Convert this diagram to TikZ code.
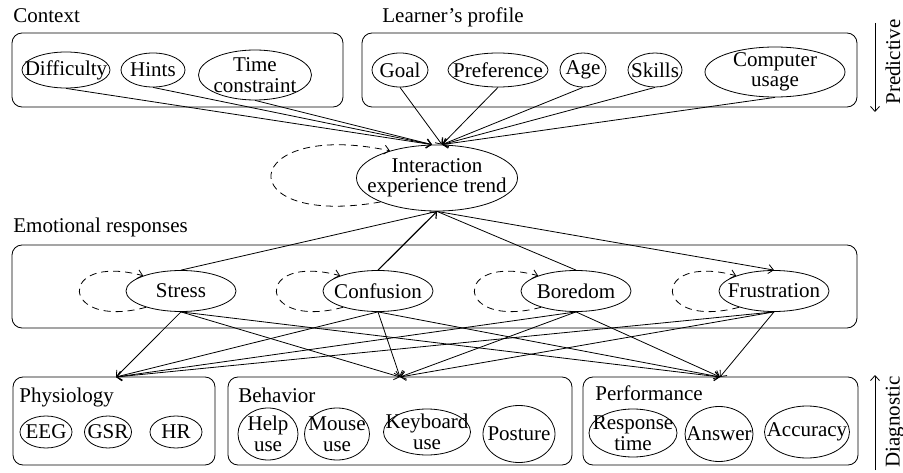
\documentclass[tikz,border=0pt]{standalone}
\usepackage{fontspec}
\setmainfont{Liberation Serif}
\usetikzlibrary{shapes.geometric,arrows.meta}
\begin{document}
\begin{tikzpicture}[x=1pt,y=1pt,line width=0.8pt,
    every node/.append style={font=\fontsize{21}{20.5}\selectfont},
    var/.style={ellipse,draw,inner xsep=-30pt,inner ysep=-30pt,align=center},
    group/.style={draw,rounded corners=10pt,inner sep=0pt},
    grouplabel/.style={anchor=base west,inner sep=0pt},
    loopline/.style={dash pattern=on 7pt off 5pt},
    >={Straight Barb[length=5pt,width=9pt]}]
                \useasboundingbox (0,0) rectangle (903,472);

                \path (177.5,402) node[group,minimum width=331,minimum height=74] (ctxbox) {};
                \path (609.5,402) node[group,minimum width=495,minimum height=74] (lpbox) {};
                \path (434.5,185.5) node[group,minimum width=845,minimum height=83] (emobox) {};
                \path (114,51) node[group,minimum width=202,minimum height=88] (physbox) {};
                \path (400,51) node[group,minimum width=344,minimum height=88] (behbox) {};
                \path (720.5,51) node[group,minimum width=275,minimum height=88] (perfbox) {};

                \path (13,449) node[grouplabel] (ctxlabel) {Context};
                \path (382,449) node[grouplabel] (lplabel) {Learner's profile};
                \path (13,239) node[grouplabel] (emolabel) {Emotional responses};
                \path (19,70) node[grouplabel] (physlabel) {Physiology};
                \path (238,70) node[grouplabel] (behlabel) {Behavior};
                \path (595,72) node[grouplabel] (perflabel) {Performance};

                \path (66,402) node[var,minimum width=88,minimum height=36] (difficulty) {Difficulty};
                \path (153,402) node[var,minimum width=64,minimum height=34] (hints) {Hints};
                \path (255,397) node[var,minimum width=113,minimum height=50] (timec) {Time\\constraint};
                \path (400,402) node[var,minimum width=56,minimum height=34] (goal) {Goal};
                \path (498,402) node[var,minimum width=100,minimum height=34] (pref) {Preference};
                \path (583,402) node[var,minimum width=46,minimum height=34] (age) {Age};
                \path (655,402) node[var,minimum width=54,minimum height=34] (skills) {Skills};
                \path (775,400) node[var,minimum width=140,minimum height=50] (compu) {Computer\\usage};

                \path (437,294) node[var,minimum width=161,minimum height=66] (trend) {Interaction\\experience trend};

                \path (181,181) node[var,minimum width=110,minimum height=41] (stress) {Stress};
                \path (378,181) node[var,minimum width=110,minimum height=41] (confusion) {Confusion};
                \path (576,181) node[var,minimum width=110,minimum height=41] (boredom) {Boredom};
                \path (774,181) node[var,minimum width=110,minimum height=41] (frustration) {Frustration};

                \path (46,40) node[var,minimum width=52,minimum height=32] (eeg) {EEG};
                \path (108,40) node[var,minimum width=47,minimum height=32] (gsr) {GSR};
                \path (176,40) node[var,minimum width=52,minimum height=32] (hr) {HR};
                \path (268,38) node[var,minimum width=60,minimum height=52] (helpuse) {Help\\use};
                \path (337,38) node[var,minimum width=65,minimum height=52] (mouseuse) {Mouse\\use};
                \path (427,40) node[var,minimum width=87,minimum height=46] (keyuse) {Keyboard\\use};
                \path (519,38) node[var,minimum width=72,minimum height=57] (posture) {Posture};
                \path (633,39) node[var,minimum width=88,minimum height=48] (resptime) {Response\\time};
                \path (719,38) node[var,minimum width=68,minimum height=55] (answer) {Answer};
                \path (807,40) node[var,minimum width=85,minimum height=52] (accuracy) {Accuracy};

                \path (893,410) node[rotate=90] (predlabel) {Predictive};
                \path (895,50) node[rotate=90] (diaglabel) {Diagnostic};
                \coordinate (predtop) at (875,449);
                \coordinate (predbot) at (875,360);
                \coordinate (diagbot) at (875,2);
                \coordinate (diagtop) at (875,97);
                \draw[->] (predtop) -- (predbot);
                \draw[->] (diagbot) -- (diagtop);

                \foreach \n in {difficulty,hints,timec}
                  \draw[->] (\n.south) -- ([xshift=-5]trend.north);
                \foreach \n in {goal,pref,age,skills,compu}
                  \draw[->] (\n.south) -- ([xshift=5]trend.north);

                \draw (trend.south) -- (stress.north);
                \draw[->,line width=1.2pt] (confusion.north) -- (trend.south);
                \draw (trend.south) -- (boredom.north);
                \draw[->] (trend.south) -- (frustration.north);

                \draw[loopline,->] (trend.203) to[out=190,in=168,distance=155] (trend.150);
                \foreach \n in {stress,confusion,boredom,frustration}
                  \draw[loopline,->] (\n.205) to[out=195,in=165,distance=90] (\n.158);

                \coordinate (physin) at (116,95);
                \coordinate (behin) at (400,95);
                \coordinate (perfin) at (720,95);
                \foreach \n in {stress,confusion,boredom,frustration}
                  \foreach \t in {physin,behin,perfin}
                    \draw[->] (\n.south) -- (\t);
              \end{tikzpicture}
\end{document}
